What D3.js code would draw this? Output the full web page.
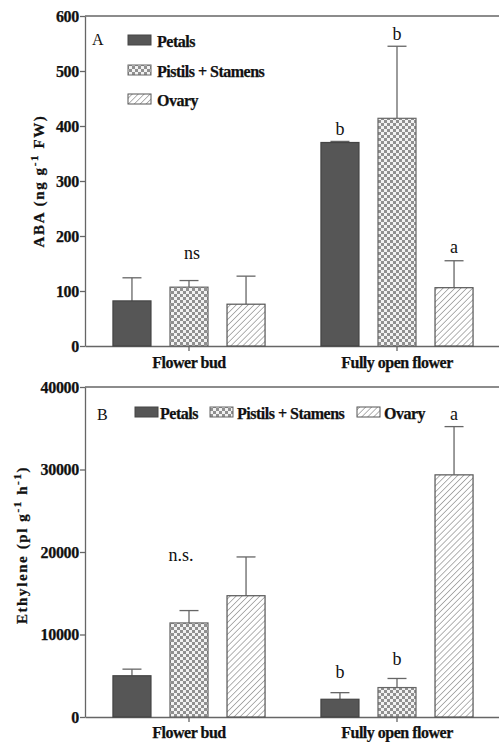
<!DOCTYPE html>
<html><head><meta charset="utf-8">
<script src="https://cdn.jsdelivr.net/npm/d3@7"></script>
<style>
body{margin:0;background:#fff;}
svg{display:block;}
.tk text{font-family:"Liberation Serif","Times New Roman",serif;font-weight:bold;font-size:16px;fill:#111;letter-spacing:-0.3px;stroke:#111;stroke-width:0.25px;}
.tk path,.tk line{stroke:#666;stroke-width:1.3;}
.bt{stroke:#111;stroke-width:0.25px;}
</style>
</head><body>
<svg id="c" width="499" height="742"></svg>
<script>
const groups = ["Flower bud", "Fully open flower"];
const series = ["Petals", "Pistils + Stamens", "Ovary"];
const abaMean = [[82, 107, 76], [370, 414, 106]];
const abaSE = [[42, 12, 51], [2, 131, 49]];
const abaLetters = [["", "ns", ""], ["b", "b", "a"]];
const ethMean = [[5000, 11400, 14700], [2150, 3570, 29350]];
const ethSE = [[800, 1500, 4700], [800, 1100, 5850]];
const ethLetters = [["", "n.s.", ""], ["b", "b", "a"]];
const abaTicks = [0, 100, 200, 300, 400, 500, 600];
const ethTicks = [0, 10000, 20000, 30000, 40000];

const svg = d3.select("#c");
const defs = svg.append("defs");
const chk = defs.append("pattern").attr("id","chk").attr("patternUnits","userSpaceOnUse").attr("width",6).attr("height",6);
chk.append("rect").attr("width",6).attr("height",6).attr("fill","#f2f2f2");
chk.append("rect").attr("width",3).attr("height",3).attr("fill","#909090");
chk.append("rect").attr("x",3).attr("y",3).attr("width",3).attr("height",3).attr("fill","#909090");
const hat = defs.append("pattern").attr("id","hat").attr("patternUnits","userSpaceOnUse").attr("width",4.2).attr("height",4.2).attr("patternTransform","rotate(45)");
hat.append("rect").attr("width",4.2).attr("height",4.2).attr("fill","#fff");
hat.append("line").attr("x1",0).attr("y1",0).attr("x2",0).attr("y2",4.2).attr("stroke","#666").attr("stroke-width",1);

const fills = {"Petals":"#565656","Pistils + Stamens":"url(#chk)","Ovary":"url(#hat)"};
const strokes = {"Petals":"#444","Pistils + Stamens":"#666","Ovary":"#555"};

const x0 = d3.scaleBand().domain(groups).range([85, 501]).paddingInner(0).paddingOuter(0);
const x1 = d3.scaleBand().domain(series).range([0, x0.bandwidth()]).paddingInner(1/3).paddingOuter(0.49);
const serif = '"Liberation Serif","Times New Roman",serif';

function panel(cfg){
  const y = d3.scaleLinear().domain([0, cfg.max]).range([cfg.bottom, cfg.top]);
  const g = svg.append("g");
  g.append("line").attr("x1",85).attr("x2",499).attr("y1",y(cfg.max)).attr("y2",y(cfg.max)).attr("stroke","#666").attr("stroke-width",1.3);
  g.append("g").attr("class","tk").attr("transform","translate(85,0)")
    .call(d3.axisLeft(y).tickValues(cfg.ticks).tickSize(5).tickPadding(1).tickSizeOuter(0).tickFormat(d3.format("d")));
  g.append("g").attr("class","tk").attr("transform",`translate(0,${cfg.bottom})`)
    .call(d3.axisBottom(x0).tickSize(5).tickSizeOuter(0).tickFormat(""));
  groups.forEach((grp, gi) => {
    series.forEach((s, si) => {
      const bx = x0(grp) + x1(s), bw = x1.bandwidth();
      const v = cfg.mean[gi][si], e = cfg.se[gi][si];
      const cx = bx + bw/2;
      g.append("line").attr("x1",cx).attr("x2",cx).attr("y1",y(v)).attr("y2",y(v+e)).attr("stroke","#666").attr("stroke-width",1.3);
      g.append("line").attr("x1",cx-9.5).attr("x2",cx+9.5).attr("y1",y(v+e)).attr("y2",y(v+e)).attr("stroke","#666").attr("stroke-width",1.3);
      g.append("rect").attr("x",bx).attr("y",y(v)).attr("width",bw).attr("height",y(0)-y(v))
        .attr("fill",fills[s]).attr("stroke",strokes[s]).attr("stroke-width",1.2);
      const lab = cfg.letters[gi][si];
      if (lab) {
        g.append("text").attr("x",cx + (cfg.labDx[gi][si]||0)).attr("y",y(v+e) - cfg.labGap[gi][si])
          .attr("text-anchor","middle").attr("font-family",serif).attr("font-size",18).attr("fill","#111").text(lab);
      }
    });
    g.append("text").attr("class","bt").attr("x",x0(grp)+x0.bandwidth()/2).attr("y",cfg.xlabY).attr("text-anchor","middle")
      .attr("font-family",serif).attr("font-weight","bold").attr("font-size",16).attr("letter-spacing","-0.5px").attr("fill","#111").text(grp);
  });
  const yt = g.append("text").attr("class","bt").attr("transform",`translate(${cfg.titleX},${cfg.titleY}) rotate(-90)`).attr("text-anchor","middle")
    .attr("font-family",serif).attr("font-weight","bold").attr("font-size",15).attr("letter-spacing","1.6px").attr("fill","#111");
  cfg.title(yt);
  g.append("text").attr("x",cfg.pl[0]).attr("y",cfg.pl[1]).attr("font-family",serif).attr("font-size",16).attr("fill","#111").text(cfg.plText);
  series.forEach((s, si) => {
    const L = cfg.legend[si];
    g.append("rect").attr("x",L[0]).attr("y",L[1]).attr("width",23).attr("height",10).attr("fill",fills[s]).attr("stroke",strokes[s]).attr("stroke-width",1);
    g.append("text").attr("class","bt").attr("x",L[2]).attr("y",L[1]+12).attr("font-family",serif).attr("font-weight","bold").attr("font-size",16)
      .attr("letter-spacing","-0.5px").attr("fill","#111").text(s);
  });
}

panel({max:600, top:16, bottom:346, ticks:abaTicks, mean:abaMean, se:abaSE, letters:abaLetters,
  labGap:[[0,22,0],[6,6,8]], labDx:[[0,3,0],[0,0,0]], xlabY:368,
  titleX:44, titleY:181, pl:[92,45], plText:"A",
  legend:[[128,35,157],[128,65,157],[128,94,157]],
  title: t => { t.append("tspan").text("ABA (ng g"); t.append("tspan").attr("dy",-6).attr("font-size",11).text("-1"); t.append("tspan").attr("dy",6).text(" FW)"); }
});
panel({max:40000, top:387, bottom:717, ticks:ethTicks, mean:ethMean, se:ethSE, letters:ethLetters,
  labGap:[[0,50,0],[15,13,7]], labDx:[[0,-8,0],[0,0,0]], xlabY:738,
  titleX:27, titleY:545, pl:[97,420], plText:"B",
  legend:[[135,407,160],[210,407,237],[357,407,384]],
  title: t => { t.append("tspan").text("Ethylene (pl g"); t.append("tspan").attr("dy",-6).attr("font-size",11).text("-1"); t.append("tspan").attr("dy",6).text(" h"); t.append("tspan").attr("dy",-6).attr("font-size",11).text("-1"); t.append("tspan").attr("dy",6).text(")"); }
});
</script>
</body></html>
